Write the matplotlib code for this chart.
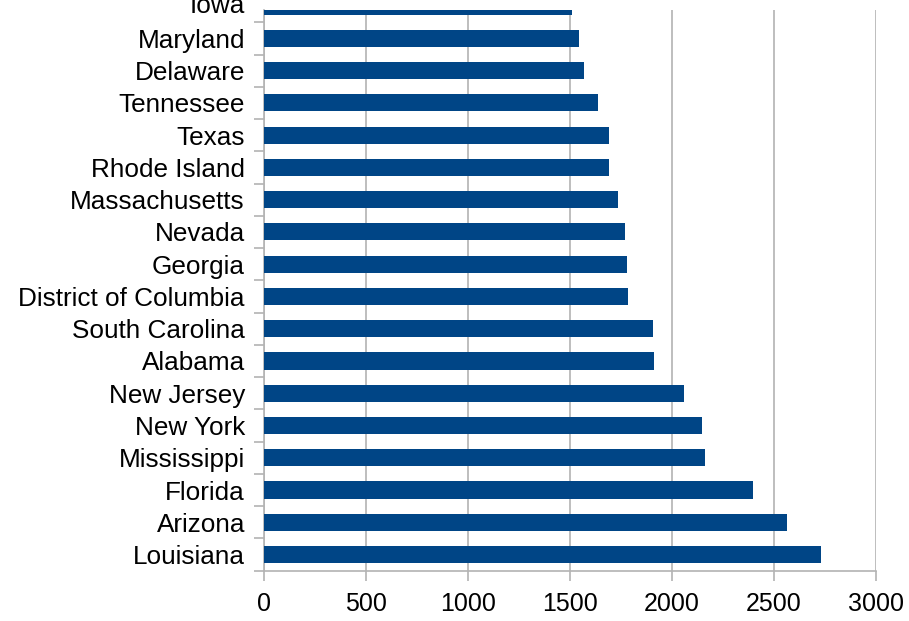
import matplotlib
matplotlib.use('Agg')
import matplotlib.pyplot as plt
import numpy as np

states = ['Louisiana', 'Arizona', 'Florida', 'Mississippi', 'New York', 'New Jersey',
          'Alabama', 'South Carolina', 'District of Columbia', 'Georgia', 'Nevada',
          'Massachusetts', 'Rhode Island', 'Texas', 'Tennessee', 'Delaware', 'Maryland', 'Iowa']
values = [2730, 2564, 2397, 2162, 2147, 2059, 1912, 1907, 1784, 1779, 1770,
          1735, 1691, 1691, 1637, 1569, 1544, 1510]
x_ticks = [0, 500, 1000, 1500, 2000, 2500, 3000]

BLUE = '#004586'
GRID = '#b3b3b3'
YFONT = 18.8
XFONT = 18

plt.rcParams['font.family'] = ['Liberation Sans', 'DejaVu Sans']

fig = plt.figure(figsize=(9.09, 6.21), dpi=100)
ax = fig.add_axes([264 / 909, 1 - 571 / 621, (876 - 264) / 909, (571 - 10) / 621])

pos = np.arange(len(states))
ax.barh(pos, values, height=0.53, color=BLUE, zorder=3)

ax.set_xlim(0, 3000)
ax.set_ylim(-0.51, 16.88)
ax.set_xticks(x_ticks)
ax.set_xticklabels([str(t) for t in x_ticks])
ax.xaxis.grid(True, color=GRID, linewidth=1.2, zorder=0)

# category labels, without tick marks; boundary ticks as minor ticks
shown = pos[:-1]
ax.set_yticks(shown)
ax.set_yticklabels(states[:-1])
ax.set_yticks(np.arange(-0.5, len(states) - 1, 1.0), minor=True)
ax.tick_params(axis='y', which='major', length=0, pad=13.7, labelsize=YFONT)
ax.tick_params(axis='y', which='minor', length=7.2, width=1.2, color=GRID)
ax.tick_params(axis='x', which='major', length=7.2, width=1.2, color=GRID, labelsize=XFONT, pad=8)

# top label is partly outside the axes
ax.annotate(states[-1], xy=(0, pos[-1]), xycoords=('axes fraction', 'data'),
            xytext=(-13.7, 0), textcoords='offset points', ha='right', va='center',
            fontsize=YFONT, annotation_clip=False)

for side in ['top', 'right']:
    ax.spines[side].set_visible(False)
for side in ['left', 'bottom']:
    ax.spines[side].set_color(GRID)
    ax.spines[side].set_linewidth(1.2)

plt.savefig('out.png', dpi=100)
